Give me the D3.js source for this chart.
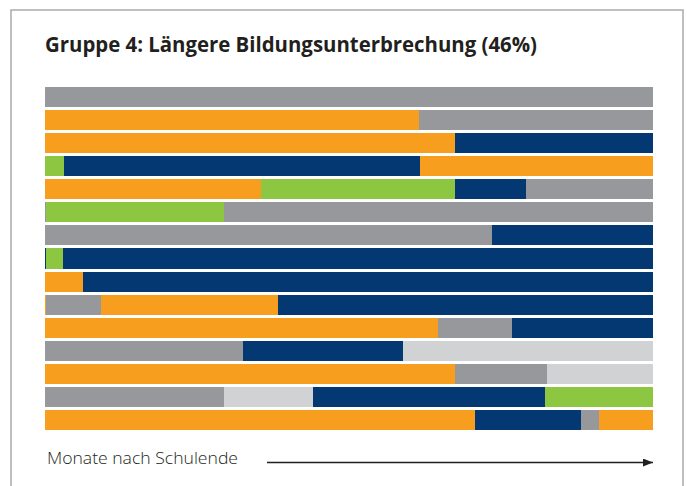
<!DOCTYPE html>
<html>
<head>
<meta charset="utf-8">
<script src="https://cdn.jsdelivr.net/npm/d3@7"></script>
<style>
  html, body { margin: 0; padding: 0; background: #fff; }
  svg { display: block; }
</style>
</head>
<body>
<svg id="chart" width="687" height="486"></svg>
<script>
// ---- Data ----
const title = "Gruppe 4: Längere Bildungsunterbrechung (46%)";
const axisLabel = "Monate nach Schulende";
const stateNames = ["grau", "orange", "blau", "grün", "hellgrau"];
const stateColors = ["#97989b", "#f79e1e", "#033873", "#8dc641", "#d1d2d4"];
// each row: sequence of states and durations (share of the observed period, %)
const rowStates = [
  ["grau"],
  ["orange", "grau"],
  ["orange", "blau"],
  ["grün", "blau", "orange"],
  ["orange", "grün", "blau", "grau"],
  ["grau", "grün", "grau"],
  ["grau", "blau"],
  ["blau", "grün", "blau"],
  ["orange", "blau"],
  ["orange", "grau", "orange", "blau"],
  ["orange", "grau", "blau"],
  ["grau", "blau", "hellgrau"],
  ["orange", "grau", "hellgrau"],
  ["grau", "hellgrau", "blau", "grün"],
  ["orange", "blau", "grau", "orange"]
];
const rowDurations = [
  [100],
  [61.5, 38.5],
  [67.4, 32.6],
  [3.1, 58.6, 38.3],
  [35.5, 31.9, 11.7, 20.9],
  [0.2, 29.2, 70.6],
  [73.5, 26.5],
  [0.2, 2.8, 97.0],
  [6.2, 93.8],
  [0.2, 9.0, 29.1, 61.7],
  [64.6, 12.2, 23.2],
  [32.6, 26.3, 41.1],
  [67.4, 15.2, 17.4],
  [29.4, 14.7, 38.1, 17.8],
  [70.7, 17.5, 2.9, 8.9]
];

// ---- Build segments ----
const segments = [];
rowStates.forEach((states, i) => {
  let start = 0;
  states.forEach((s, j) => {
    const d = rowDurations[i][j];
    segments.push({ row: i, state: s, x0: start, x1: start + d });
    start += d;
  });
});

const svg = d3.select("#chart");

// frame
svg.append("path")
  .attr("d", "M11,500 V10 H683 V500")
  .attr("fill", "none")
  .attr("stroke", "#a9aaac")
  .attr("stroke-width", 1.5);

const x = d3.scaleLinear().domain([0, 100]).range([45, 653]);
const y = d3.scaleBand().domain(d3.range(rowStates.length)).range([87, 430]).paddingInner(0.133).paddingOuter(0);
const color = d3.scaleOrdinal().domain(stateNames).range(stateColors);

svg.append("g").selectAll("rect")
  .data(segments)
  .join("rect")
  .attr("x", d => x(d.x0))
  .attr("width", d => Math.max(0, x(d.x1) - x(d.x0)))
  .attr("y", d => y(d.row))
  .attr("height", y.bandwidth())
  .attr("fill", d => color(d.state))
  .attr("shape-rendering", "crispEdges");

// title
svg.append("text")
  .attr("x", 45).attr("y", 52)
  .attr("font-family", "'Open Sans', 'DejaVu Sans', sans-serif")
  .attr("font-weight", 700)
  .attr("font-size", 20.5)
  .attr("fill", "#231f20")
  .attr("textLength", 492)
  .attr("lengthAdjust", "spacingAndGlyphs")
  .text(title);

// axis label
svg.append("text")
  .attr("x", 47).attr("y", 464)
  .attr("font-family", "'Open Sans', 'DejaVu Sans', sans-serif")
  .attr("font-weight", 300)
  .attr("font-size", 15.5)
  .attr("fill", "#231f20")
  .attr("textLength", 191)
  .attr("lengthAdjust", "spacingAndGlyphs")
  .text(axisLabel);

// arrow
const defs = svg.append("defs");
defs.append("marker")
  .attr("id", "arrow")
  .attr("viewBox", "0 0 10 8")
  .attr("refX", 10).attr("refY", 4)
  .attr("markerWidth", 10).attr("markerHeight", 8)
  .attr("markerUnits", "userSpaceOnUse")
  .attr("orient", "auto")
  .append("path").attr("d", "M0,0 L10,4 L0,8 Z").attr("fill", "#231f20");

svg.append("line")
  .attr("x1", 267).attr("x2", x(100))
  .attr("y1", 462.5).attr("y2", 462.5)
  .attr("stroke", "#231f20")
  .attr("stroke-width", 1.3)
  .attr("marker-end", "url(#arrow)");
</script>
</body>
</html>
